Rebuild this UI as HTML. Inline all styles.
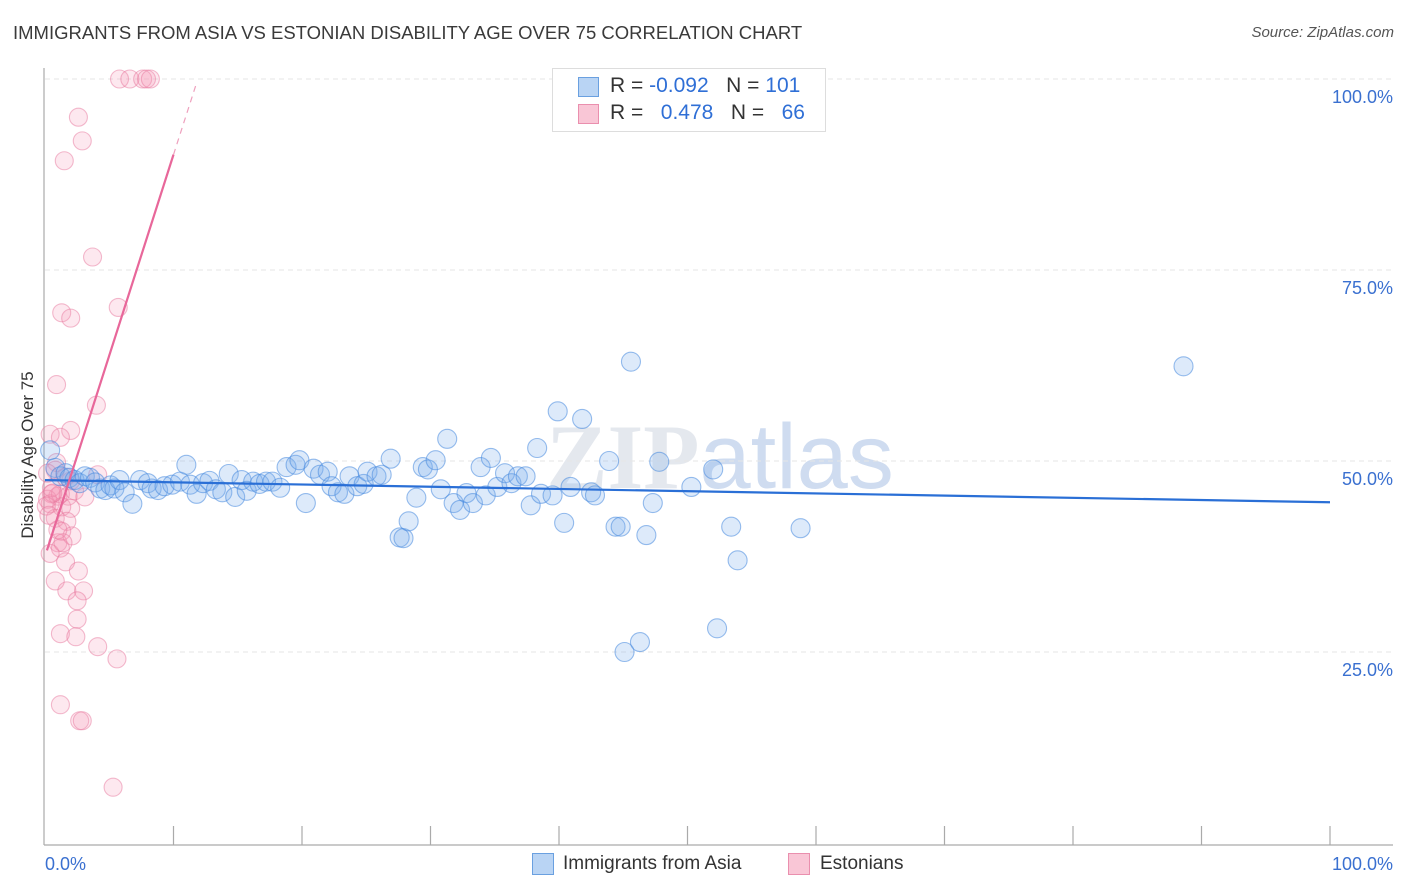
<!DOCTYPE html>
<html><head><meta charset="utf-8"><style>
body{margin:0;background:#fff;font-family:"Liberation Sans",sans-serif;}
#wrap{position:relative;width:1406px;height:892px;overflow:hidden;}
.t{position:absolute;white-space:nowrap;}
</style></head><body>
<div id="wrap">
<div class="t" style="left:13px;top:22px;font-size:18.5px;color:#3a3a3a;">IMMIGRANTS FROM ASIA VS ESTONIAN DISABILITY AGE OVER 75 CORRELATION CHART</div>
<div class="t" style="right:12px;top:24px;font-size:15px;color:#555;font-style:italic;">Source: ZipAtlas.com</div>
<svg id="plot" width="1406" height="892" style="position:absolute;left:0;top:0">
<text x="720" y="488" text-anchor="middle" font-size="92" font-weight="bold" fill="#e4e8ee" font-family="Liberation Serif,serif">ZIP<tspan font-weight="normal" font-family="Liberation Sans,sans-serif" fill="#cfdcf0">atlas</tspan></text>
</svg>
<div style="position:absolute;left:552px;top:68px;width:272px;height:62px;border:1px solid #ddd;background:#fff;"></div>
<div style="position:absolute;left:578px;top:77px;width:19px;height:18px;background:#b9d4f4;border:1px solid #6aa0e0;"></div>
<div style="position:absolute;left:578px;top:104px;width:19px;height:18px;background:#f9c6d6;border:1px solid #ea8fae;"></div>
<div class="t" style="left:610px;top:74px;font-size:21px;color:#333;">R = <span style="color:#2f6fd6">-0.092</span>&nbsp;&nbsp;&nbsp;N = <span style="color:#2f6fd6">101</span></div>
<div class="t" style="left:610px;top:101px;font-size:21px;color:#333;">R = &nbsp;&nbsp;<span style="color:#2f6fd6">0.478</span>&nbsp;&nbsp;&nbsp;N = &nbsp;&nbsp;<span style="color:#2f6fd6">66</span></div>
<div style="position:absolute;left:532px;top:853px;width:20px;height:20px;background:#b9d4f4;border:1px solid #6aa0e0;"></div>
<div class="t" style="left:563px;top:853px;font-size:19px;color:#333;">Immigrants from Asia</div>
<div style="position:absolute;left:788px;top:853px;width:20px;height:20px;background:#f9c6d6;border:1px solid #ea8fae;"></div>
<div class="t" style="left:820px;top:853px;font-size:19px;color:#333;">Estonians</div>
<div class="t" style="left:28px;top:455px;font-size:17px;color:#333;transform:translate(-50%,-50%) rotate(-90deg);">Disability Age Over 75</div>
</div>
<script>
const yTicks=[25,50,75,100];
const yTickLabels=["25.0%","50.0%","75.0%","100.0%"];
const xTickLabels=["0.0%","100.0%"];
// Immigrants from Asia: [x%, y%]
const asiaX=[0.4,0.8,1.2,1.6,1.9,2.3,2.7,3.1,3.5,3.9,4.3,4.7,5.1,5.4,5.8,6.2,6.8,7.4,8.0,8.3,8.8,9.3,9.9,10.5,11.0,11.3,11.8,12.3,12.8,13.3,13.8,14.3,14.8,15.3,15.7,16.2,16.7,17.2,17.7,18.3,18.8,19.5,19.8,20.3,20.9,21.4,22.0,22.3,22.8,23.3,23.7,24.3,24.8,25.1,25.8,26.2,26.9,27.6,27.9,28.3,28.9,29.4,29.8,30.4,30.8,31.3,31.8,32.3,32.8,33.3,33.9,34.3,34.7,35.2,35.8,36.3,36.8,37.4,37.8,38.3,38.6,39.5,39.9,40.4,40.9,41.8,42.5,42.8,43.9,44.4,44.8,45.1,45.6,46.3,46.8,47.3,47.8,50.3,52.0,52.3,53.4,53.9,58.8,88.6];
const asiaY=[51.4,49.1,48.0,48.4,47.8,47.5,47.1,48.0,47.8,47.2,46.4,46.2,46.8,46.4,47.5,45.9,44.4,47.5,47.1,46.4,46.2,46.7,46.9,47.3,49.5,46.9,45.7,47.1,47.4,46.3,45.9,48.3,45.3,47.5,46.1,47.3,47.0,47.3,47.3,46.5,49.2,49.5,50.1,44.5,49.0,48.2,48.6,46.7,45.9,45.7,48.0,46.7,47.0,48.6,48.0,48.2,50.3,40.0,39.9,42.1,45.2,49.2,48.9,50.1,46.3,52.9,44.5,43.6,45.8,44.5,49.2,45.5,50.4,46.6,48.4,47.1,48.0,48.0,44.2,51.7,45.7,45.5,56.5,41.9,46.6,55.5,45.9,45.5,50.0,41.4,41.4,25.0,63.0,26.3,40.3,44.5,49.9,46.6,48.9,28.1,41.4,37.0,41.2,62.4];
// Estonians: [x%, y%]
const estX=[5.8,6.6,7.6,7.9,8.2,2.6,2.9,1.5,3.7,1.3,2.0,5.7,0.9,4.0,2.0,0.4,1.2,0.9,0.8,4.1,1.6,2.0,0.5,1.0,0.2,0.4,1.2,1.8,2.3,3.1,1.3,2.0,0.8,1.7,1.3,1.0,2.1,1.2,0.4,1.6,2.6,0.8,1.7,3.0,2.5,2.5,1.2,2.4,4.1,5.6,1.2,2.7,2.9,5.3,0.2,0.5,0.6,0.1,0.3,1.0,1.4];
const estY=[100,100,100,100,100,95.0,91.9,89.3,76.7,69.4,68.7,70.1,60.0,57.3,54.0,53.5,53.1,49.8,48.8,48.2,47.9,47.4,45.7,45.4,45.0,44.4,45.7,45.4,46.1,45.3,44.0,43.8,42.5,42.1,40.8,39.3,40.2,38.6,37.9,36.8,35.6,34.3,33.0,33.0,31.7,29.3,27.4,27.0,25.7,24.1,18.1,16.0,16.0,7.3,48.4,46.5,45.8,44.1,42.9,41.0,39.3];
const asiaLine=[0,47.5,100,44.6];
const estLineSolid=[0.15,38.3,10,90.1];
const estLineDash=[10,90.1,11.8,99.5];

const L=45,R=1330,T=79,B=843;
const sx=v=>L+(R-L)*v/100, sy=v=>B-(B-T)*v/100;
const svg=document.getElementById('plot');
const NS='http://www.w3.org/2000/svg';
function mk(tag,attrs){const e=document.createElementNS(NS,tag);for(const k in attrs)e.setAttribute(k,attrs[k]);svg.appendChild(e);return e;}
yTicks.forEach((t,i)=>{
  const g=mk('line',{x1:L,x2:1393,y1:sy(t),y2:sy(t),stroke:'#e6e6e6','stroke-dasharray':'5,4'});
  
  
  const tx=mk('text',{x:1393,y:sy(t)+24,'text-anchor':'end','font-size':18,fill:'#3a70d0'});
  tx.textContent=yTickLabels[i];
  
  
});
const ax=mk('line',{x1:L-1,x2:L-1,y1:68,y2:B+2,stroke:'#aaa','stroke-width':1.2});


const bx=mk('line',{x1:L-1,x2:1393,y1:B+2,y2:B+2,stroke:'#aaa','stroke-width':1.2});


for(let i=1;i<=10;i++){const tk=mk('line',{x1:sx(i*10),x2:sx(i*10),y1:B-17,y2:B+2,stroke:'#aaa','stroke-width':1.2});
  
  }
const x0=mk('text',{x:L,y:870,'font-size':18,fill:'#3a70d0'});x0.textContent=xTickLabels[0];


const x1=mk('text',{x:1393,y:870,'font-size':18,fill:'#3a70d0','text-anchor':'end'});x1.textContent=xTickLabels[1];


estX.forEach((x,i)=>{const c=mk('circle',{cx:sx(x),cy:sy(estY[i]),r:9,fill:'rgba(244,150,182,0.22)',stroke:'rgba(232,120,158,0.5)','stroke-width':1.1});
  
  });
asiaX.forEach((x,i)=>{const c=mk('circle',{cx:sx(x),cy:sy(asiaY[i]),r:9.5,fill:'rgba(120,172,236,0.25)',stroke:'rgba(70,136,222,0.55)','stroke-width':1.1});
  
  });
const bl=mk('line',{x1:sx(asiaLine[0]),y1:sy(asiaLine[1]),x2:sx(asiaLine[2]),y2:sy(asiaLine[3]),stroke:'#2a6fd6','stroke-width':2.2});


const pl=mk('line',{x1:sx(estLineSolid[0]),y1:sy(estLineSolid[1]),x2:sx(estLineSolid[2]),y2:sy(estLineSolid[3]),stroke:'#e8679a','stroke-width':2.2});


const pd=mk('line',{x1:sx(estLineDash[0]),y1:sy(estLineDash[1]),x2:sx(estLineDash[2]),y2:sy(estLineDash[3]),stroke:'#eea0bd','stroke-width':1.2,'stroke-dasharray':'6,5'});


</script>
</body></html>
